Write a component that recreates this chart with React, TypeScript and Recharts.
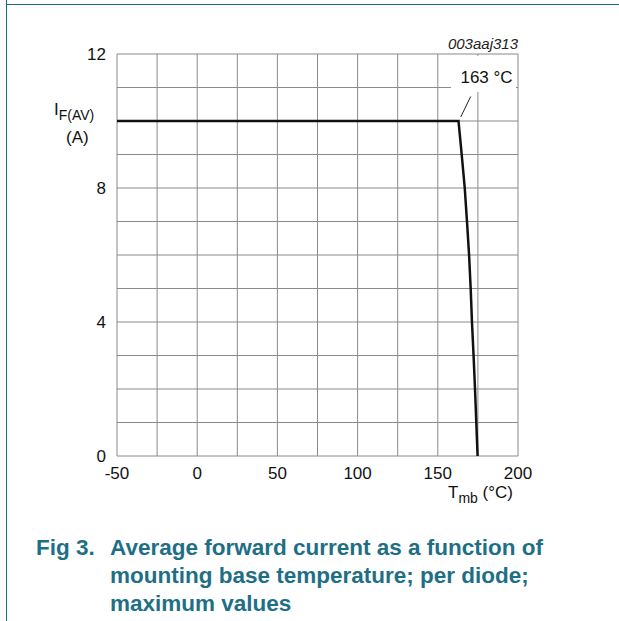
import React from 'react';
import {
  LineChart,
  Line,
  XAxis,
  YAxis,
  CartesianGrid,
  ReferenceArea,
  ReferenceLine,
} from 'recharts';

// Tmb (°C) vs IF(AV) (A)
const temps = [-50, 162.9, 164.9, 166.8, 168.2, 169.5, 170.5, 171.3, 172.3, 173.2, 174.0, 174.8];
const currents = [10, 10, 9, 8, 7, 6, 5, 4, 3, 2, 1, 0];

const xTicks = [-50, -25, 0, 25, 50, 75, 100, 125, 150, 175, 200];
const yTicks = [0, 1, 2, 3, 4, 5, 6, 7, 8, 9, 10, 11, 12];
const xLabelled = [-50, 0, 50, 100, 150, 200];
const yLabelled = [0, 4, 8, 12];

const kneeLabel = '163 °C';
const figCode = '003aaj313';
const captionLines = [
  'Average forward current as a function of',
  'mounting base temperature; per diode;',
  'maximum values',
];

const data = temps.map((t, i) => ({ t, i: currents[i] }));

const teal = '#1e6f86';
const gridColor = '#8a8a8a';
const font = 'Arial, "Liberation Sans", Helvetica, sans-serif';

export default function App() {
  return (
    <div style={{ position: 'absolute', left: 0, top: 0, width: 619, height: 621, background: '#fff', fontFamily: font }}>
      {/* page frame lines */}
      <div style={{ position: 'absolute', left: 6, top: 4, width: 613, height: 1, background: teal }} />
      <div style={{ position: 'absolute', left: 6, top: 0, width: 1, height: 621, background: teal }} />

      <div style={{ position: 'absolute', right: 101, top: 35, fontSize: 15, fontStyle: 'italic', color: '#222' }}>
        {figCode}
      </div>

      <LineChart
        width={619}
        height={510}
        data={data}
        margin={{ top: 54, right: 101, bottom: 14, left: 57 }}
        style={{ position: 'absolute', left: 0, top: 0 }}
      >
        <CartesianGrid stroke={gridColor} strokeWidth={1} />
        <XAxis
          dataKey="t"
          type="number"
          domain={[-50, 200]}
          ticks={xTicks}
          tickFormatter={(v: number) => (xLabelled.includes(v) ? String(v) : '')}
          interval={0}
          axisLine={false}
          tickLine={false}
          tickSize={0}
          tickMargin={11}
          height={40}
          tick={{ fill: '#111', fontSize: 17, fontFamily: font }}
          label={{
            content: (props: any) => {
              const vb = props.viewBox || {};
              const x = vb.x + vb.width;
              return (
                <text x={x - 5} y={498} textAnchor="end" fill="#111" fontFamily={font} fontSize={17}>
                  T<tspan fontSize={14} dy={5}>mb</tspan>
                  <tspan dy={-5}> (°C)</tspan>
                </text>
              );
            },
          }}
        />
        <YAxis
          type="number"
          domain={[0, 12]}
          ticks={yTicks}
          tickFormatter={(v: number) => (yLabelled.includes(v) ? String(v) : '')}
          interval={0}
          axisLine={false}
          tickLine={false}
          tickSize={0}
          tickMargin={11}
          width={60}
          tick={{ fill: '#111', fontSize: 17, fontFamily: font }}
          label={{
            content: () => (
              <g>
                <text x={54} y={115} fill="#111" fontFamily={font} fontSize={17}>
                  I<tspan fontSize={14} dy={5}>F(AV)</tspan>
                </text>
                <text x={66} y={143} fill="#111" fontFamily={font} fontSize={17}>
                  (A)
                </text>
              </g>
            ),
          }}
        />
        <ReferenceArea
          x1={158.2}
          x2={198.8}
          y1={10.87}
          y2={11.94}
          fill="#fff"
          fillOpacity={1}
          stroke="none"
          ifOverflow="visible"
          label={{
            content: (props: any) => {
              const vb = props.viewBox || {};
              return (
                <text
                  x={vb.x + vb.width / 2 + 3}
                  y={vb.y + vb.height / 2 + 9}
                  textAnchor="middle"
                  fill="#111"
                  fontFamily={font}
                  fontSize={17}
                >
                  {kneeLabel}
                </text>
              );
            },
          }}
        />
        <ReferenceLine
          segment={[
            { x: 164.3, y: 10.12 },
            { x: 170.5, y: 10.73 },
          ]}
          stroke="#222"
          strokeWidth={1}
          ifOverflow="visible"
        />
        <Line
          type="linear"
          dataKey="i"
          stroke="#111"
          strokeWidth={2.5}
          dot={false}
          activeDot={false}
          isAnimationActive={false}
        />
      </LineChart>

      <div style={{ position: 'absolute', left: 36, top: 534, fontSize: 22.5, fontWeight: 'bold', color: teal, lineHeight: '28px' }}>
        Fig 3.
      </div>
      <div style={{ position: 'absolute', left: 110, top: 534, fontSize: 22.5, fontWeight: 'bold', color: teal, lineHeight: '28px' }}>
        {captionLines.map((l) => (
          <div key={l}>{l}</div>
        ))}
      </div>
    </div>
  );
}
